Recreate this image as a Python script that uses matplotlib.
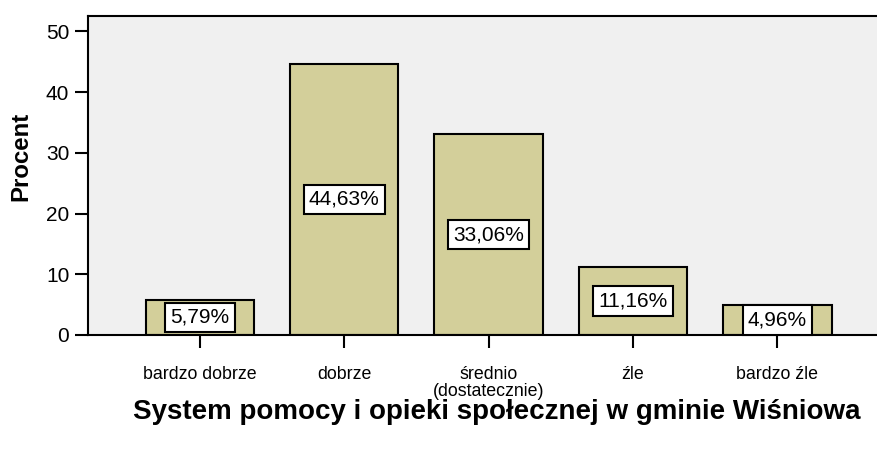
import numpy as np
from matplotlib import pyplot as plt

categories = ['bardzo dobrze', 'dobrze', 'średnio\n(dostatecznie)', 'źle', 'bardzo źle']
percent = [5.79, 44.63, 33.06, 11.16, 4.96]
labels = ['5,79%', '44,63%', '33,06%', '11,16%', '4,96%']
yticks = [0, 10, 20, 30, 40, 50]

plt.rcParams['font.family'] = ['Liberation Sans', 'DejaVu Sans']

fig = plt.figure(figsize=(8.77, 4.51), dpi=100)
ax = fig.add_axes([88 / 877, 1 - 335 / 451, 1 - 88 / 877, (335 - 15.5) / 451])
ax.set_facecolor('#f0f0f0')

x = np.arange(len(categories))
ax.bar(x, percent, width=0.75, color='#d3cf9a', edgecolor='black', linewidth=1.5, zorder=2)

# value boxes in the middle of each bar
for xi, v, lab in zip(x, percent, labels):
    ax.text(xi, v / 2, lab, ha='center', va='center', fontsize=15, zorder=3,
            bbox=dict(boxstyle='square,pad=0.25', facecolor='white', edgecolor='black', linewidth=1.5))

ax.set_xlim(-0.775, 4.69)
ax.set_ylim(0, 52.6)
ax.set_yticks(yticks)
ax.set_xticks(x)
ax.set_xticklabels(categories, fontsize=12.8, linespacing=1.05)
ax.tick_params(axis='y', labelsize=15, length=9.5, width=1.5, pad=4)
ax.tick_params(axis='x', length=9.5, width=1.5, pad=12.5)

for s in ['left', 'top', 'bottom']:
    ax.spines[s].set_linewidth(1.5)
ax.spines['right'].set_visible(False)

fig.text(21 / 877, 1 - 156 / 451, 'Procent', rotation=90, ha='center', va='center',
         fontsize=17.3, fontweight='bold')
fig.text(497 / 877, 1 - 412 / 451, 'System pomocy i opieki społecznej w gminie Wiśniowa',
         ha='center', va='center', fontsize=20, fontweight='bold')

fig.savefig('out.png', dpi=100)
